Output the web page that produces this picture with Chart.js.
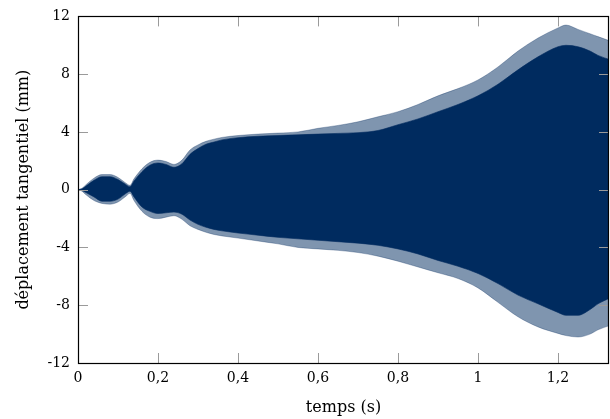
<!DOCTYPE html>
<html>
<head>
<meta charset="utf-8">
<script src="https://cdn.jsdelivr.net/npm/chart.js@4.4.1/dist/chart.umd.min.js"></script>
<style>
  html, body { margin: 0; padding: 0; background: #ffffff; }
  #wrap { width: 610px; height: 419px; }
</style>
</head>
<body>
<div id="wrap"><canvas id="c" width="610" height="419"></canvas></div>
<script>
// ---- data (time in s, displacement in mm) ----
const time      = [0, 0.01, 0.02, 0.04, 0.06, 0.08, 0.10, 0.12, 0.13, 0.14, 0.16, 0.18, 0.20, 0.22, 0.24, 0.26, 0.28, 0.30, 0.32, 0.34, 0.36, 0.40, 0.45, 0.50, 0.55, 0.60, 0.65, 0.70, 0.75, 0.80, 0.85, 0.90, 0.95, 1.00, 1.05, 1.10, 1.15, 1.20, 1.22, 1.25, 1.28, 1.30, 1.33];
// outer envelope (extreme peaks)
const upperPeak = [0, 0.10, 0.35, 0.80, 1.05, 1.05, 0.85, 0.45, 0.30, 0.75, 1.45, 1.90, 2.05, 1.95, 1.75, 2.05, 2.75, 3.10, 3.35, 3.50, 3.62, 3.75, 3.85, 3.92, 4.00, 4.25, 4.45, 4.70, 5.05, 5.40, 5.90, 6.50, 7.00, 7.60, 8.50, 9.60, 10.50, 11.20, 11.40, 11.10, 10.80, 10.60, 10.30];
const lowerPeak = [0, -0.10, -0.35, -0.75, -0.95, -1.00, -0.85, -0.45, -0.25, -0.75, -1.50, -1.90, -2.00, -1.90, -1.80, -2.05, -2.50, -2.75, -2.95, -3.10, -3.20, -3.35, -3.55, -3.75, -4.00, -4.10, -4.20, -4.35, -4.60, -4.95, -5.35, -5.75, -6.15, -6.80, -7.80, -8.80, -9.50, -9.95, -10.10, -10.20, -10.00, -9.70, -9.40];
// dense core of the oscillation
const upperCore = [0, 0.05, 0.25, 0.65, 0.90, 0.90, 0.70, 0.35, 0.20, 0.60, 1.25, 1.70, 1.85, 1.75, 1.55, 1.80, 2.45, 2.85, 3.15, 3.30, 3.45, 3.60, 3.70, 3.75, 3.80, 3.85, 3.90, 3.95, 4.10, 4.50, 4.90, 5.40, 5.90, 6.50, 7.30, 8.30, 9.20, 9.90, 10.00, 9.90, 9.60, 9.30, 9.00];
const lowerCore = [0, -0.05, -0.20, -0.50, -0.80, -0.80, -0.65, -0.25, -0.10, -0.50, -1.20, -1.50, -1.65, -1.60, -1.55, -1.70, -2.10, -2.40, -2.60, -2.75, -2.85, -3.00, -3.15, -3.30, -3.40, -3.50, -3.60, -3.70, -3.85, -4.10, -4.45, -4.90, -5.30, -5.80, -6.50, -7.30, -7.90, -8.50, -8.70, -8.70, -8.30, -7.90, -7.50];

const xTickValues = [0, 0.2, 0.4, 0.6, 0.8, 1.0, 1.2];
const xTickLabels = ['0', '0,2', '0,4', '0,6', '0,8', '1', '1,2'];
const yTickValues = [-12, -8, -4, 0, 4, 8, 12];
const yTickLabels = ['-12', '-8', '-4', '0', '4', '8', '12'];

const xLabel = 'temps (s)';
const yLabel = 'déplacement tangentiel (mm)';

// ---- chart ----
const NAVY = '#002b5f';
const LIGHT = 'rgba(0, 43, 95, 0.5)';
const pts = arr => time.map((t, i) => ({ x: t, y: arr[i] }));

const frameTicks = {
  id: 'frameTicks',
  afterDatasetsDraw(chart) {
    const { ctx, chartArea: a, scales } = chart;
    const L = 10;
    ctx.save();
    ctx.strokeStyle = '#9a9a9a';
    ctx.lineWidth = 1;
    ctx.beginPath();
    xTickValues.forEach(v => {
      const px = Math.round(scales.x.getPixelForValue(v)) + 0.5;
      ctx.moveTo(px, a.bottom); ctx.lineTo(px, a.bottom - L);
      ctx.moveTo(px, a.top); ctx.lineTo(px, a.top + L);
    });
    yTickValues.forEach(v => {
      const py = Math.round(scales.y.getPixelForValue(v)) + 0.5;
      ctx.moveTo(a.left, py); ctx.lineTo(a.left + L, py);
      ctx.moveTo(a.right, py); ctx.lineTo(a.right - L, py);
    });
    ctx.stroke();
    ctx.strokeStyle = '#000000';
    ctx.lineWidth = 1.2;
    ctx.strokeRect(Math.round(a.left) + 0.5, Math.round(a.top) + 0.5,
                   Math.round(a.right - a.left) - 1, Math.round(a.bottom - a.top));
    ctx.restore();
  }
};

const FONT = "'DejaVu Serif', serif";

new Chart(document.getElementById('c'), {
  type: 'line',
  data: {
    datasets: [
      { data: pts(upperCore), fill: { target: 1 }, backgroundColor: NAVY, borderColor: NAVY, borderWidth: 0.6, pointRadius: 0, order: 0, cubicInterpolationMode: 'monotone' },
      { data: pts(lowerCore), fill: false, borderColor: NAVY, borderWidth: 0.6, pointRadius: 0, order: 0, cubicInterpolationMode: 'monotone' },
      { data: pts(upperPeak), fill: { target: 3 }, backgroundColor: LIGHT, borderColor: LIGHT, borderWidth: 0.6, pointRadius: 0, order: 1, cubicInterpolationMode: 'monotone' },
      { data: pts(lowerPeak), fill: false, borderColor: LIGHT, borderWidth: 0.6, pointRadius: 0, order: 1, cubicInterpolationMode: 'monotone' }
    ]
  },
  options: {
    responsive: false,
    animation: false,
    events: [],
    layout: { padding: { left: 0, right: 1, top: 16, bottom: 0 } },
    plugins: { legend: { display: false }, tooltip: { enabled: false } },
    scales: {
      x: {
        type: 'linear',
        min: 0,
        max: 1.3275,
        grid: { display: false, drawTicks: false },
        border: { display: false },
        afterBuildTicks: s => { s.ticks = xTickValues.map(v => ({ value: v })); },
        afterFit: s => { s.height = 56; },
        ticks: {
          color: '#000',
          font: { family: FONT, size: 14 },
          padding: 7,
          maxRotation: 0,
          autoSkip: false,
          callback: (v, i) => xTickLabels[i]
        },
        title: {
          display: true, text: xLabel, color: '#000',
          font: { family: FONT, size: 16 },
          padding: { top: 0, bottom: 2 }
        }
      },
      y: {
        type: 'linear',
        min: -12,
        max: 12,
        grid: { display: false, drawTicks: false },
        border: { display: false },
        afterBuildTicks: s => { s.ticks = yTickValues.map(v => ({ value: v })); },
        afterFit: s => { s.width = 78; },
        ticks: {
          color: '#000',
          font: { family: FONT, size: 14 },
          padding: 8,
          autoSkip: false,
          callback: (v, i) => yTickLabels[i]
        },
        title: {
          display: true, text: yLabel, color: '#000',
          font: { family: FONT, size: 16 },
          padding: { top: 14, bottom: 0 }
        }
      }
    }
  },
  plugins: [frameTicks]
});
</script>
</body>
</html>
